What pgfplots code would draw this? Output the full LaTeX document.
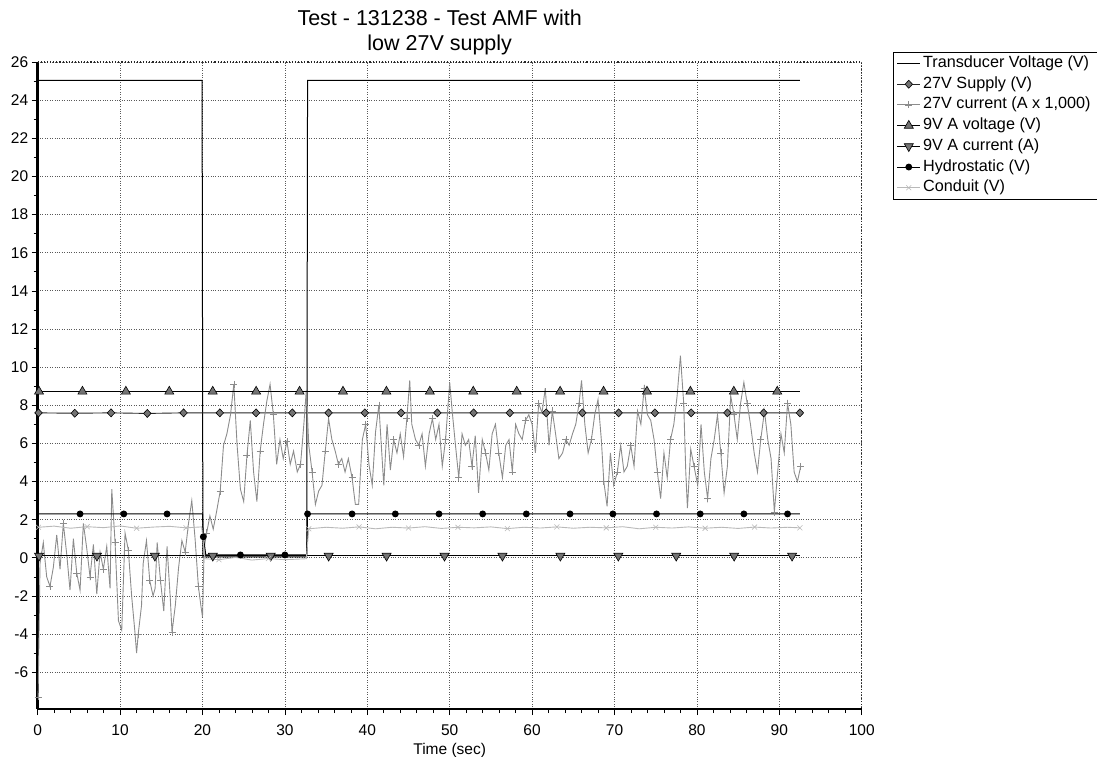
\documentclass[border=0pt]{standalone}
\usepackage{fontspec}
\setmainfont{Liberation Sans}
\usepackage{pgfplots}
\pgfplotsset{compat=1.18}
\definecolor{curgray}{RGB}{140,140,140}
\definecolor{congray}{RGB}{185,185,185}
\definecolor{mkfill}{RGB}{115,115,115}
\begin{document}
\begin{tikzpicture}
\begin{axis}[
 name=ax,
 scale only axis, width=824pt, height=647pt,
 xmin=0, xmax=100, ymin=-7.93, ymax=26,
 xtick={0,10,...,100}, ytick={-6,-4,...,26},
 minor x tick num=4, minor y tick num=1,
 axis x line*=bottom, axis y line*=left,
 axis line style={-, line width=2.4pt, black},
 tick align=outside, major tick length=6pt, minor tick length=4pt,
 tick style={black, line width=0.6pt},
 xmajorgrids, ymajorgrids,
 grid style={dotted, black!65, line width=0.8pt},
 tick label style={font=\fontsize{15.5}{17}\selectfont},
 xticklabel style={yshift=-6.5pt},
 /pgf/number format/assume math mode=true,
 /pgf/number format/1000 sep={},
 xlabel={Time (sec)},
 xlabel style={font=\fontsize{15.5}{17}\selectfont, yshift=-0.5pt},
 title={Test - 131238 - Test AMF with\\low 27V supply},
 title style={font=\fontsize{21.5}{25}\selectfont, align=center, at={(0.5,1)}, anchor=south, yshift=-2.5pt, xshift=-10pt},
 legend style={at={(1,1)}, anchor=north west, xshift=31pt, yshift=10pt, draw=black, fill=white,
   font=\fontsize{16.2}{18}\selectfont, row sep=0pt, inner xsep=4pt, inner ysep=1pt,
   nodes={inner ysep=2.35pt, inner xsep=2.5pt, text height=12pt, text depth=4pt}},
 legend cell align=left,
 legend image code/.code={\draw[mark repeat=2,mark phase=2,#1] plot coordinates {(0cm,0cm) (0.4cm,0cm) (0.8cm,0cm)};},
 clip=false,
]
\draw[dotted, black!85, line width=1.1pt] (rel axis cs:0,1) -- (rel axis cs:1,1) -- (rel axis cs:1,0);

\addplot[black, line width=1pt] coordinates {(0,25.03) (19.95,25.03) (20.05,0.05) (32.65,0.05) (32.75,25.03) (92.5,25.03)};
\addlegendentry{Transducer Voltage (V)}

\addplot[black!85, line width=0.9pt, mark=diamond*, mark size=4pt, mark options={fill=mkfill, draw=black, line width=0.6pt, xscale=1.25}] coordinates {
(0.1,7.6) (4.5,7.58) (8.9,7.6) (13.3,7.57) (17.7,7.6) (22.1,7.6) (26.5,7.6) (30.9,7.6) (35.3,7.6) (39.7,7.6) (44.1,7.6) (48.5,7.6) (52.9,7.6) (57.3,7.6) (61.7,7.6) (66.1,7.6) (70.5,7.6) (74.9,7.6) (79.3,7.6) (83.7,7.6) (88.1,7.6) (92.5,7.6)};
\addlegendentry{27V Supply (V)}

\addplot[curgray, line width=0.9pt, mark=+, mark size=3.5pt, mark repeat=4, mark options={curgray, line width=0.6pt}] table {
t v
0.05 -7.3
0.28 -0.3
0.68 0.8
1.09 -1.0
1.49 -1.5
1.90 -0.5
2.31 1.2
2.71 -0.6
3.11 1.8
3.52 0.2
3.92 -1.7
4.33 1.0
4.74 -0.8
5.14 -1.7
5.54 1.8
5.95 0.5
6.35 -1.0
6.76 0.7
7.17 -1.9
7.57 0.3
7.97 -0.6
8.38 0.6
8.78 -1.6
8.99 3.6
9.39 0.8
9.80 -3.3
10.2 -3.8
10.6 1.3
11.0 0.4
11.4 -2.0
11.8 -3.9
12.0 -5.0
12.2 -4.0
12.6 -2.5
12.8 -0.3
13.2 0.9
13.6 -1.2
14.0 -2.0
14.25 -1.6
14.5 0.8
14.9 -1.2
15.3 -2.8
15.7 0.6
16.1 -2.2
16.3 -3.9
16.7 -2.5
17.1 -0.5
17.5 0.9
17.9 0.3
18.3 1.8
18.7 3.0
19.1 1.0
19.5 -1.5
19.8 -2.5
20.0 -3.1
20.2 0.5
20.5 1.3
20.9 2.2
21.3 1.5
21.7 2.4
22.15 3.5
22.55 5.9
22.96 6.5
23.4 7.5
23.8 9.1
24.2 5.9
24.6 3.6
25.0 2.95
25.4 5.4
25.8 7.2
26.2 4.5
26.6 2.95
27.0 5.6
27.4 7.0
27.8 8.2
28.2 9.1
28.6 7.5
29.0 4.9
29.4 6.2
29.8 5.2
30.25 6.1
30.65 4.9
31.05 5.6
31.5 4.5
31.9 4.9
32.3 7.0
32.6 8.8
32.9 5.9
33.3 4.5
33.7 2.8
34.1 3.5
34.5 3.8
34.9 5.6
35.3 7.3
35.7 6.2
36.1 5.6
36.5 4.9
36.9 5.2
37.3 4.5
37.7 5.2
38.15 4.2
38.55 2.8
38.95 2.8
39.4 6.2
39.8 7.0
40.2 4.9
40.6 3.8
41.0 6.6
41.4 8.0
42.0 3.8
42.4 7.0
42.8 4.6
43.2 6.2
43.6 5.5
44.0 6.5
44.4 5.3
44.8 7.3
45.15 9.3
45.4 7.0
45.85 6.2
46.25 5.9
46.65 6.5
47.05 4.8
47.5 6.5
47.9 7.3
48.3 6.2
48.7 7.0
49.1 4.8
49.5 6.2
50.0 9.2
50.3 7.7
50.7 5.9
51.1 4.2
51.5 6.5
51.9 5.9
52.3 6.2
52.7 4.8
53.1 6.4
53.5 3.4
53.95 6.2
54.35 5.5
54.75 4.6
55.15 6.5
55.55 7.0
55.95 5.5
56.4 4.2
56.8 5.9
57.2 6.2
57.6 4.5
58.0 7.0
58.4 6.5
58.8 6.2
59.2 7.2
59.6 7.5
60.0 7.0
60.4 5.5
60.8 8.1
61.2 7.6
61.6 8.9
62.05 5.9
62.45 7.7
62.85 6.5
63.25 5.2
63.7 5.5
64.1 6.2
64.5 5.9
64.9 6.5
65.3 7.0
65.7 8.1
66.0 9.3
66.4 7.0
66.8 5.5
67.2 6.2
67.6 7.5
68.0 8.3
68.4 6.2
68.7 4.0
69.1 2.7
69.5 5.5
69.9 3.8
70.35 4.5
70.75 5.9
71.15 4.5
71.55 4.8
71.97 5.9
72.37 4.8
72.8 7.7
73.2 7.0
73.6 8.9
74.0 7.5
74.4 7.2
74.8 6.2
75.2 4.5
75.6 3.1
76.0 5.5
76.4 4.2
76.8 6.2
77.2 7.0
77.6 8.5
78.0 10.6
78.4 8.1
78.65 4.5
78.85 2.6
79.25 5.7
79.65 4.8
80.1 3.8
80.5 7.0
80.9 4.5
81.3 3.1
81.7 5.2
82.1 6.2
82.5 7.5
82.9 5.5
83.3 3.4
83.7 4.8
84.1 8.5
84.5 7.5
84.9 6.2
85.3 8.1
85.7 9.2
86.1 8.1
86.5 7.0
86.95 5.5
87.35 4.5
87.75 6.2
88.2 7.7
88.6 6.2
89.0 5.2
89.4 2.4
89.8 4.5
90.2 6.5
90.6 5.5
91.0 8.1
91.4 7.0
91.8 4.5
92.2 4.0
92.6 4.8
};
\addlegendentry{27V current (A x 1,000)}

\addplot[black, line width=1pt, mark=triangle*, mark size=5.2pt, mark options={fill=mkfill, draw=black, line width=0.6pt},
 mark indices={1,2,3,4,5,6,7,8,9,10,11,12,13,14,15,16,17,18},
 legend image post style={mark indices={2}}] coordinates {
(0.16,8.72) (5.43,8.72) (10.7,8.72) (15.97,8.72) (21.24,8.72) (26.51,8.72) (31.78,8.72) (37.05,8.72) (42.32,8.72) (47.59,8.72) (52.86,8.72) (58.13,8.72) (63.4,8.72) (68.67,8.72) (73.94,8.72) (79.21,8.72) (84.48,8.72) (89.75,8.72) (92.5,8.72)};
\addlegendentry{9V A voltage (V)}

\addplot[black, line width=1pt, mark=triangle*, mark size=5.2pt, mark options={rotate=180, fill=mkfill, draw=black, line width=0.6pt},
 mark indices={1,2,3,4,5,6,7,8,9,10,11,12,13,14},
 legend image post style={mark indices={2}}] coordinates {
(0.16,0.1) (7.19,0.1) (14.22,0.1) (21.25,0.1) (28.28,0.1) (35.31,0.1) (42.34,0.1) (49.37,0.1) (56.4,0.1) (63.43,0.1) (70.46,0.1) (77.49,0.1) (84.52,0.1) (91.55,0.1) (92.5,0.1)};
\addlegendentry{9V A current (A)}

\addplot[black, line width=1pt, mark=*, mark size=2.9pt, mark options={fill=black},
 mark indices={2,3,4,6,8,9,11,12,13,14,15,16,17,18,19,20,21,22},
 legend image post style={mark indices={2}}] coordinates {
(0,2.3) (5.14,2.3) (10.45,2.3) (15.7,2.3) (20.0,2.3) (20.1,1.1) (20.4,0.15) (24.6,0.15) (30.0,0.15) (32.65,0.15) (32.75,2.3) (38.15,2.3) (43.4,2.3) (48.7,2.3) (54.0,2.3) (59.3,2.3) (64.6,2.3) (69.8,2.3) (75.1,2.3) (80.4,2.3) (85.7,2.3) (91.0,2.3) (92.5,2.3)};
\addlegendentry{Hydrostatic (V)}

\addplot[congray, line width=0.9pt, mark=x, mark size=3.5pt, mark repeat=3, mark options={congray, line width=0.6pt}] coordinates {
(0.1,1.60) (2,1.66) (4,1.55) (6,1.63) (8,1.58) (10,1.67) (12,1.55) (14,1.61) (16,1.65) (18,1.57) (19.9,1.62)
(20.3,-0.05) (22,-0.10) (24,0.02) (26,-0.12) (28,-0.04) (30,-0.10) (32.6,-0.05)
(32.9,1.52) (35,1.60) (37,1.55) (39,1.62) (41,1.52) (43,1.60) (45,1.56) (47,1.63) (49,1.54) (51,1.60) (53,1.57)
(55,1.62) (57,1.53) (59,1.60) (61,1.56) (63,1.62) (65,1.55) (67,1.60) (69,1.57) (71,1.63) (73,1.52) (75,1.60)
(77,1.56) (79,1.62) (81,1.55) (83,1.60) (85,1.54) (87,1.61) (89,1.56) (91,1.60) (92.5,1.57)};
\addlegendentry{Conduit (V)}
\end{axis}
\pgfresetboundingbox
\path ([xshift=-37.7pt,yshift=-48pt]ax.south west) rectangle ++(1097pt,757pt);
\end{tikzpicture}
\end{document}
